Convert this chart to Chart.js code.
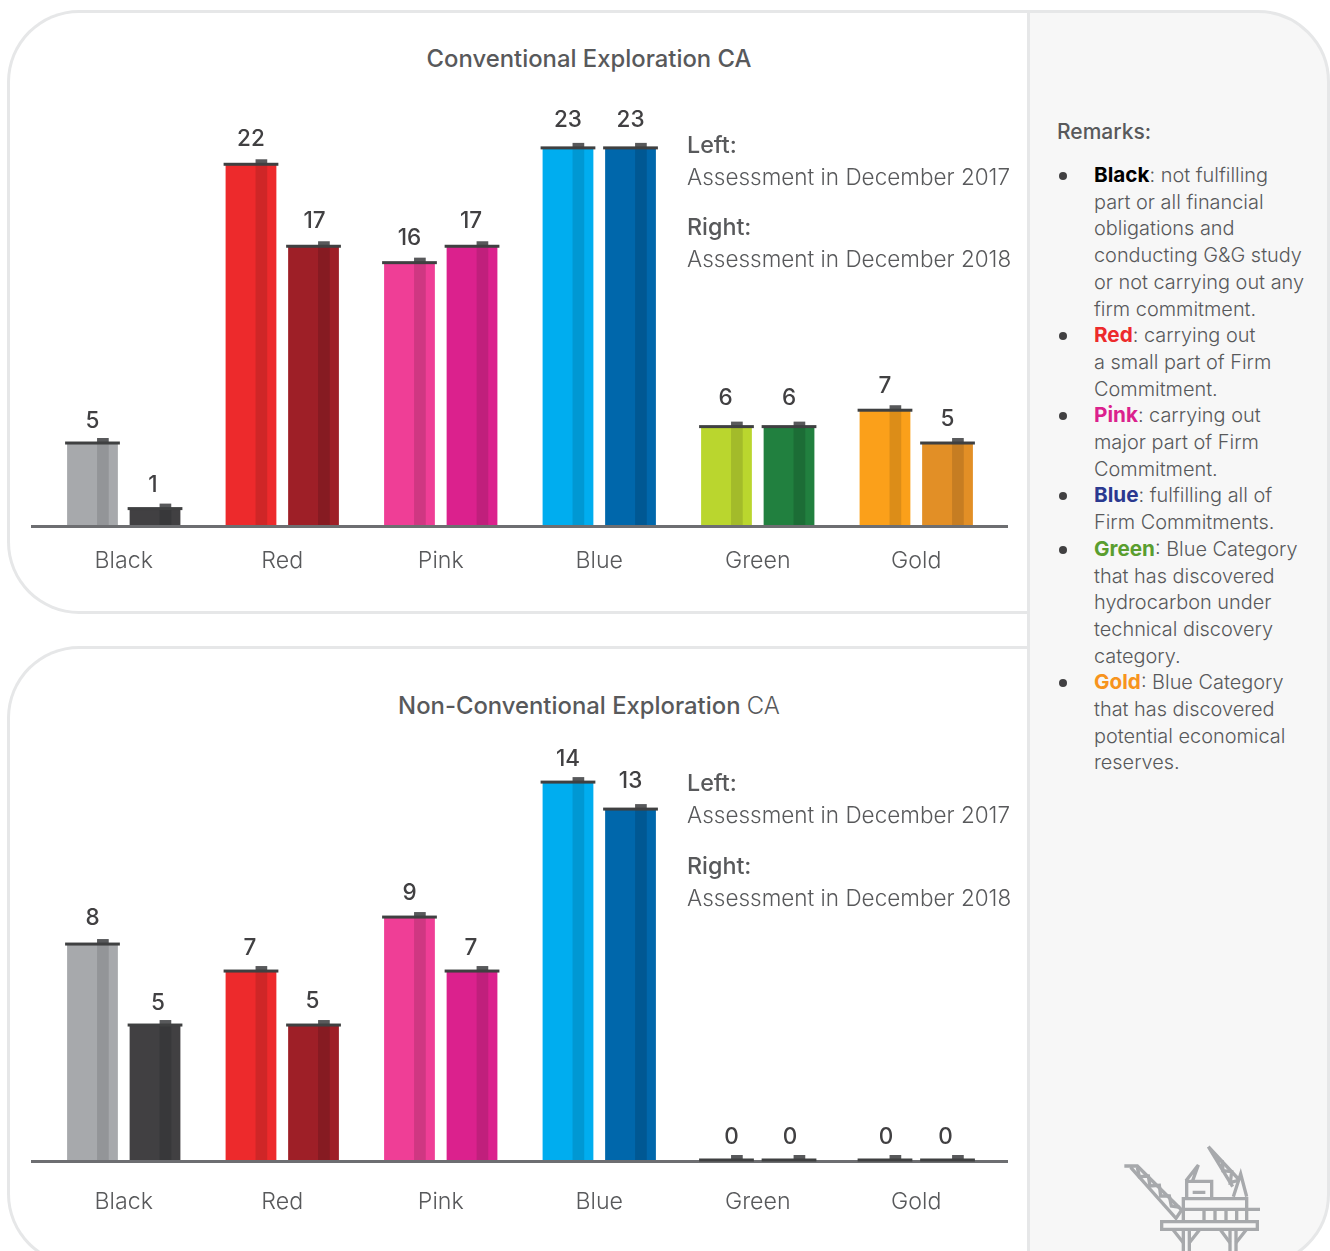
<!DOCTYPE html>
<html>
<head>
<meta charset="utf-8">
<title>Exploration CA</title>
<script src="https://cdn.jsdelivr.net/npm/chart.js@4/dist/chart.umd.min.js"></script>
<style>
  html, body { margin: 0; background: #fff; }
  body { position: relative; width: 1330px; height: 1251px; overflow: hidden; font-family: Inter, sans-serif; font-weight: 300; color: #58595b; }
  .panel { position: absolute; box-sizing: border-box; border: 3px solid #e6e7e8; }
  #topPanel { left: 7px; top: 10px; width: 1023px; height: 604px; border-right: 0; border-radius: 72px 0 0 72px; }
  #bottomPanel { left: 7px; top: 646px; width: 1023px; height: 620px; border-right: 0; border-radius: 72px 0 0 72px; }
  #sidePanel { left: 1027px; top: 10px; width: 303px; height: 1256px; background: #f7f7f7; border-radius: 0 72px 72px 0; }
  canvas { position: absolute; left: 0; }
  #chartTop { top: 90px; }
  #chartBottom { top: 730px; }
  .title { position: absolute; left: 150px; width: 878px; text-align: center; font-size: 23.85px; line-height: 30px; font-weight: 500; }
  .title span { font-weight: 300; }
  .note { position: absolute; left: 687px; font-size: 22.5px; line-height: 32px; white-space: nowrap; }
  .note b { font-weight: 500; font-size: 23.3px; }
  #remarks { position: absolute; left: 1057px; top: 118px; font-size: 19.9px; line-height: 26.7px; }
  #remarks h4 { margin: 0 0 17px; font-size: 21px; font-weight: 500; line-height: 27px; }
  #remarks p { margin: 0; padding-left: 37px; position: relative; white-space: nowrap; }
  #remarks p::before { content: ""; position: absolute; left: 2px; top: 10px; width: 8px; height: 8px; border-radius: 50%; background: #414042; }
  #remarks b { font-weight: 700; font-size: 20.7px; }
  #rig { position: absolute; left: 1100px; top: 1130px; }
</style>
</head>
<body>
<div class="panel" id="topPanel"></div>
<div class="panel" id="bottomPanel"></div>
<div class="panel" id="sidePanel"></div>

<canvas id="chartTop" width="1028" height="496"></canvas>
<canvas id="chartBottom" width="1028" height="491"></canvas>

<div class="title" style="top:44px">Conventional Exploration CA</div>
<div class="title" style="top:691px">Non-Conventional Exploration <span>CA</span></div>

<div class="note" style="top:129px"><b>Left:</b></div>
<div class="note" style="top:161px">Assessment in December 2017</div>
<div class="note" style="top:211px"><b>Right:</b></div>
<div class="note" style="top:243px">Assessment in December 2018</div>

<div class="note" style="top:767px"><b>Left:</b></div>
<div class="note" style="top:799px">Assessment in December 2017</div>
<div class="note" style="top:850px"><b>Right:</b></div>
<div class="note" style="top:882px">Assessment in December 2018</div>

<div id="remarks">
  <h4>Remarks:</h4>
  <p><b style="color:#000">Black</b>: not fulfilling<br>part or all financial<br>obligations and<br>conducting G&amp;G study<br>or not carrying out any<br>firm commitment.</p>
  <p><b style="color:#ed2a2c">Red</b>: carrying out<br>a small part of Firm<br>Commitment.</p>
  <p><b style="color:#db218d">Pink</b>: carrying out<br>major part of Firm<br>Commitment.</p>
  <p><b style="color:#2b3990">Blue</b>: fulfilling all of<br>Firm Commitments.</p>
  <p><b style="color:#5a9e2f">Green</b>: Blue Category<br>that has discovered<br>hydrocarbon under<br>technical discovery<br>category.</p>
  <p><b style="color:#f7941d">Gold</b>: Blue Category<br>that has discovered<br>potential economical<br>reserves.</p>
</div>

<!-- offshore rig icon -->
<svg id="rig" width="200" height="121" viewBox="0 0 600 363" fill="none" stroke="#a7a9ac" stroke-width="10">
  <path d="M73 108H112L245 240L228 265L92 112"/>
  <path d="M112 112L118 140L145 138L150 168L178 166L182 198L208 198L214 228L240 232"/>
  <path d="M185 275H472V298H185Z"/>
  <path d="M250 298V363M268 298V363M390 298V363M408 298V363"/>
  <path d="M218 298L250 338M300 298L268 338M360 298L390 338M440 298L408 338"/>
  <path d="M250 272V206H440V272M250 238H480M312 238V272M345 238V272M378 238V272M410 238V272"/>
  <path d="M260 206V154H335V206M278 187H316"/>
  <path d="M258 152L295 105L278 152"/>
  <path d="M325 50L398 170M325 50L418 150M400 200L422 132L440 200"/>
  <path d="M347 86L367 95L369 122L395 125L391 158L418 150"/>
</svg>

<script>
const categories = ["Black", "Red", "Pink", "Blue", "Green", "Gold"];

// conventional exploration, assessments of December 2017 and December 2018
const conventional2017 = [5, 22, 16, 23, 6, 7];
const conventional2018 = [1, 17, 17, 23, 6, 5];

// non-conventional exploration
const nonConventional2017 = [8, 7, 9, 14, 0, 0];
const nonConventional2018 = [5, 5, 7, 13, 0, 0];

const colors2017 = ["#a7a9ac", "#ed2a2c", "#ef3e96", "#00adef", "#bad62e", "#fba01a"];
const colors2018 = ["#414042", "#9e1f27", "#db218d", "#0067ab", "#21803f", "#e28f26"];
const stripes2017 = ["#939598", "#cf2627", "#cf3782", "#0098d3", "#a3bb2a", "#dc8d18"];
const stripes2018 = ["#38383a", "#861b22", "#c01f7c", "#005893", "#1c6d36", "#c67d22"];

// how far each number sits above its bar, and its sideways shift
const topLift = [[23, 26, 25, 29, 29, 25], [24, 26, 26, 29, 29, 25]];
const topShift = [[0, 0, 0, 0, -1, 0], [-2, 1, -1, 0, 0, 0]];
const bottomLift = [[27, 24, 25, 24, 24, 24], [23, 25, 24, 29, 24, 24]];
const bottomShift = [[0, -1, 0, 0, 5, 1], [3, -1, -1, 0, 1, -2]];

// stripe, cap, nub, value label and the base line are painted over the bars
function barDecor(lift, shift) {
  return {
    id: "barDecor",
    afterDatasetsDraw(chart) {
      const ctx = chart.ctx;
      const zero = chart.scales.y.getPixelForValue(0);
      ctx.save();
      ctx.fillStyle = "#6d6e71";
      ctx.fillRect(31, zero, 977, 3);
      chart.data.datasets.forEach((ds, d) => {
        const stripes = d === 0 ? stripes2017 : stripes2018;
        chart.getDatasetMeta(d).data.forEach((bar, i) => {
          const w = bar.width;
          const left = bar.x - w / 2;
          const sx = left + w * 0.59;
          const sw = w * 0.23;
          ctx.fillStyle = stripes[i];
          ctx.fillRect(sx, bar.y, sw, zero - bar.y);
          ctx.fillStyle = "#58595b";
          ctx.fillRect(sx, bar.y - 5, sw, 5);
          ctx.fillStyle = "#3f4041";
          ctx.fillRect(left - 2, bar.y - 1.5, w + 4, 3);
          ctx.fillStyle = "#414042";
          ctx.font = "500 22.5px Inter, sans-serif";
          ctx.textAlign = "center";
          ctx.textBaseline = "middle";
          ctx.fillText(String(ds.data[i]), bar.x + shift[d][i], bar.y - lift[d][i] + 1);
        });
      });
      ctx.restore();
    }
  };
}

function drawChart(id, first, second, yMax, tickGap, lift, shift) {
  return new Chart(id, {
    type: "bar",
    data: {
      labels: categories,
      datasets: [
        { label: "December 2017", data: first, backgroundColor: colors2017 },
        { label: "December 2018", data: second, backgroundColor: colors2018 }
      ]
    },
    options: {
      responsive: false,
      animation: false,
      layout: { padding: { left: 44.5, right: 32.5, top: 0, bottom: 0 } },
      categoryPercentage: 0.789,
      barPercentage: 0.812,
      plugins: { legend: { display: false }, tooltip: { enabled: false } },
      scales: {
        y: { display: false, min: 0, max: yMax },
        x: {
          grid: { display: false },
          border: { display: false },
          afterFit(scale) { scale.height = 61; },
          ticks: {
            padding: tickGap,
            maxRotation: 0,
            color: "#58595b",
            font: { family: "Inter, sans-serif", size: 23.2, weight: "300" }
          }
        }
      }
    },
    plugins: [barDecor(lift, shift)]
  });
}

drawChart("chartTop", conventional2017, conventional2018, 26.53, 14, topLift, topShift);
drawChart("chartBottom", nonConventional2017, nonConventional2018, 15.93, 20, bottomLift, bottomShift);
</script>
</body>
</html>
